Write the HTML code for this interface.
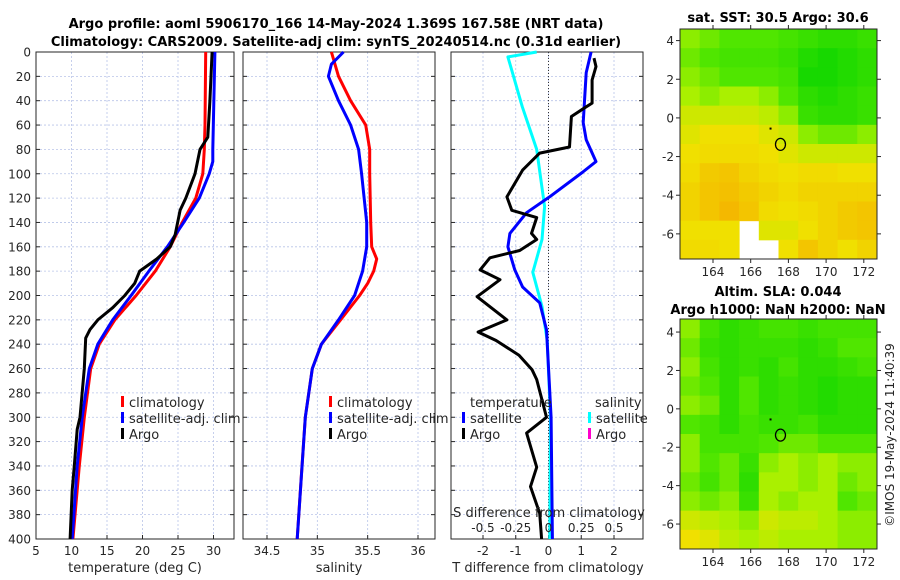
<!DOCTYPE html>
<html><head><meta charset="utf-8"><style>
body{margin:0;background:#fff}
svg{display:block}
text{font-family:"DejaVu Sans","Liberation Sans",sans-serif;fill:#262626}
.t{font-weight:bold;font-size:13px;fill:#000}
.tk{font-size:12px}
</style></head><body>
<svg id="c" width="900" height="580" viewBox="0 0 900 580" xmlns="http://www.w3.org/2000/svg">
<rect width="900" height="580" fill="#fff"/>
<text class="t" x="336" y="28" text-anchor="middle">Argo profile: aoml 5906170_166 14-May-2024 1.369S 167.58E (NRT data)</text>
<text class="t" x="336" y="46" text-anchor="middle">Climatology: CARS2009. Satellite-adj clim: synTS_20240514.nc (0.31d earlier)</text>
<text class="t" x="778" y="22" text-anchor="middle">sat. SST: 30.5 Argo: 30.6</text>
<text class="t" x="778" y="296" text-anchor="middle">Altim. SLA: 0.044</text>
<text class="t" x="778" y="314" text-anchor="middle">Argo h1000: NaN h2000: NaN</text>
<text class="tk" transform="translate(894,435) rotate(-90)" text-anchor="middle">©IMOS 19-May-2024 11:40:39</text>
<g id="g"></g>
</svg>
<script>
// ---- depth grid ----
const depthTicks=[0,20,40,60,80,100,120,140,160,180,200,220,240,260,280,300,320,340,360,380,400];
// ---- panel 1: temperature ----
const tTicks=[5,10,15,20,25,30];
const climTDepth=[0,60,80,100,120,140,160,180,200,220,240,260,300,340,400];
const climT=[28.9,28.8,28.7,28.5,27.5,25.6,23.9,21.8,19.1,16.1,13.9,12.7,11.8,11.1,10.2];
const satTDepth=[0,80,90,100,120,140,160,180,200,220,240,260,300,340,400];
const satT=[30.2,29.9,29.9,29.4,28.0,25.8,23.5,20.9,18.4,15.8,13.7,12.5,11.5,10.8,10.1];
const argoTDepth=[0,40,70,80,100,120,130,150,160,170,180,190,200,210,220,228,235,260,300,310,340,360,400];
const argoT=[29.8,29.5,29.2,28.1,27.4,26.1,25.3,24.6,23.9,22.0,19.6,18.9,17.5,15.8,13.7,12.6,12.0,11.8,11.2,10.8,10.4,10.1,9.8];
// ---- panel 2: salinity ----
const sTicks=[34.5,35,35.5,36];
const sTickLabels=["34.5","35","35.5","36"];
const climSDepth=[0,20,40,60,80,100,140,160,170,180,190,200,220,240,260,300,350,400];
const climS=[35.14,35.21,35.33,35.48,35.52,35.52,35.53,35.54,35.59,35.56,35.50,35.42,35.23,35.04,34.95,34.88,34.84,34.80];
const satSDepth=[0,10,20,40,60,80,100,140,160,180,200,220,240,260,300,400];
const satS=[35.26,35.14,35.11,35.21,35.33,35.41,35.44,35.49,35.49,35.45,35.37,35.21,35.04,34.95,34.88,34.80];
// ---- panel 3: differences ----
const dTTicks=[-2,-1,0,1,2];
const dSTicks=[-0.5,-0.25,0,0.25,0.5];
const dSTickLabels=["-0.5","-0.25","0","0.25","0.5"];
const satDTDepth=[0,17,58,72,90,99,119,132,149,160,179,193,206,228,300,400];
const satDT=[1.30,1.15,1.06,1.15,1.45,1.03,0.03,-0.67,-1.18,-1.24,-1.03,-0.79,-0.27,-0.06,0.08,0.12];
const argoDTDepth=[5,12,23,42,45,53,78,83,97,119,130,136,149,154,163,169,179,187,201,220,230,237,249,261,269,300,313,341,357,379,400];
const argoDT=[1.39,1.45,1.33,1.33,1.15,0.70,0.64,-0.27,-0.79,-1.27,-1.12,-0.36,-0.52,-0.36,-0.88,-1.79,-2.09,-1.48,-2.18,-1.27,-2.15,-1.6,-0.9,-0.5,-0.36,-0.06,-0.67,-0.36,-0.55,-0.27,-0.21];
const satDSDepth=[0,4,45,80,127,154,181,209,237,300,400];
const satDS=[-0.09,-0.31,-0.20,-0.09,-0.03,-0.05,-0.12,-0.05,-0.01,0.015,0.01];
// ---- maps ----
const lonTicks=[164,166,168,170,172];
const latTicks=[4,2,0,-2,-4,-6];
const sstGrid=[
[0.45,0.40,0.35,0.35,0.35,0.30,0.25,0.20,0.20,0.25],
[0.40,0.35,0.30,0.30,0.30,0.25,0.15,0.10,0.15,0.20],
[0.45,0.40,0.35,0.35,0.35,0.30,0.10,0.10,0.15,0.20],
[0.50,0.45,0.50,0.50,0.45,0.35,0.20,0.15,0.20,0.25],
[0.60,0.60,0.60,0.60,0.55,0.45,0.25,0.20,0.20,0.25],
[0.65,0.70,0.70,0.70,0.65,0.60,0.45,0.40,0.40,0.45],
[0.70,0.72,0.72,0.72,0.70,0.65,0.60,0.60,0.60,0.60],
[0.72,0.78,0.80,0.75,0.72,0.70,0.72,0.72,0.70,0.70],
[0.75,0.80,0.82,0.78,0.75,0.72,0.75,0.75,0.75,0.75],
[0.75,0.80,0.85,0.80,0.72,0.70,0.72,0.75,0.78,0.80],
[0.70,0.70,0.70,null,0.65,0.65,0.70,0.75,0.78,0.80],
[0.72,0.72,0.70,null,null,0.70,0.80,0.75,0.70,0.75]];
const slaGrid=[
[0.45,0.30,0.20,0.25,0.30,0.30,0.25,0.30,0.30,0.30],
[0.40,0.25,0.20,0.25,0.25,0.25,0.20,0.25,0.35,0.35],
[0.45,0.30,0.20,0.25,0.20,0.30,0.20,0.20,0.25,0.30],
[0.40,0.35,0.20,0.35,0.20,0.25,0.20,0.15,0.20,0.20],
[0.45,0.40,0.20,0.35,0.20,0.25,0.20,0.15,0.20,0.20],
[0.35,0.30,0.20,0.30,0.25,0.25,0.30,0.20,0.20,0.20],
[0.45,0.30,0.30,0.30,0.35,0.40,0.40,0.35,0.35,0.35],
[0.45,0.35,0.40,0.25,0.45,0.50,0.45,0.50,0.45,0.45],
[0.40,0.30,0.40,0.20,0.50,0.50,0.45,0.50,0.40,0.45],
[0.45,0.40,0.45,0.25,0.50,0.45,0.50,0.50,0.35,0.40],
[0.60,0.55,0.50,0.45,0.60,0.55,0.55,0.50,0.45,0.45],
[0.70,0.65,0.55,0.50,0.55,0.50,0.50,0.50,0.45,0.45]];
const argoLon=167.58, argoLat=-1.369;

const NS="http://www.w3.org/2000/svg";
const G=document.getElementById('g');
function mk(tag,attrs,parent){const e=document.createElementNS(NS,tag);for(const k in attrs)e.setAttribute(k,attrs[k]);(parent||G).appendChild(e);return e;}
const Y0=52,Y1=539;
const yD=d=>Y0+(d/400)*(Y1-Y0);
function lin(d0,d1,p0,p1){return v=>p0+(v-d0)/(d1-d0)*(p1-p0);}
const xT=lin(5,30,36,213.5);
const xS=lin(34.5,36,267,418);
const xDT=lin(-2,2,483,614);
const xDS=lin(-0.5,0.5,483,614);

function frame(px0,px1,xs,ticks,labels,name,leftLabels){
  depthTicks.forEach(d=>{const l=mk('line',{x1:px0,x2:px1,y1:yD(d),y2:yD(d),stroke:'#b8c4e8','stroke-width':0.8,'stroke-dasharray':'2,2'});
  
  });
  ticks.forEach((t,i)=>{const x=xs(t);const l=mk('line',{x1:x,x2:x,y1:Y0,y2:Y1,stroke:'#b8c4e8','stroke-width':0.8,'stroke-dasharray':'2,2'});
  
  
  mk('line',{x1:x,x2:x,y1:Y1,y2:Y1-4,stroke:'#262626'});
  if(labels){const tx=mk('text',{x:x,y:555,'text-anchor':'middle',class:'tk'});tx.textContent=labels[i];
  
  }});
  depthTicks.forEach(d=>{mk('line',{x1:px0,x2:px0+4,y1:yD(d),y2:yD(d),stroke:'#262626'});mk('line',{x1:px1,x2:px1-4,y1:yD(d),y2:yD(d),stroke:'#262626'});
   if(leftLabels){const tx=mk('text',{x:px0-5,y:yD(d)+4.5,'text-anchor':'end',class:'tk'});tx.textContent=d;
   
   }});
  const r=mk('rect',{x:px0,y:Y0,width:px1-px0,height:Y1-Y0,fill:'none',stroke:'#262626','stroke-width':1});
  
  
}
function series(xs,vals,depths,color,name){
  const pts=vals.map((v,i)=>xs(v).toFixed(1)+','+yD(depths[i]).toFixed(1)).join(' ');
  const p=mk('polyline',{points:pts,fill:'none',stroke:color,'stroke-width':3,'stroke-linejoin':'round'});
  
  
}
function legend(x,y,color,label,name){
  mk('rect',{x:x,y:y-11,width:3,height:11,fill:color});
  const t=mk('text',{x:x+8,y:y,class:'tk',style:'font-size:13px'});t.textContent=label;
  
  
}
function txt(x,y,s,name,anchor){const t=mk('text',{x:x,y:y,class:'tk',style:'font-size:13px','text-anchor':anchor||'start'});t.textContent=s;
  
  }

// panel 1
frame(36,234,xT,tTicks,tTicks.map(String),'temperature-axes',true);
series(xT,climT,climTDepth,'#ff0000','climatology-temperature-line');
series(xT,satT,satTDepth,'#0000ff','satellite-temperature-line');
series(xT,argoT,argoTDepth,'#000000','argo-temperature-line');
txt(135,572,'temperature (deg C)','temperature-x-axis-title','middle');
legend(121,407,'#ff0000','climatology','legend-climatology');
legend(121,423,'#0000ff','satellite-adj. clim','legend-satellite');
legend(121,439,'#000000','Argo','legend-argo');
// panel 2
frame(243,435,xS,sTicks,sTickLabels,'salinity-axes',false);
series(xS,climS,climSDepth,'#ff0000','climatology-salinity-line');
series(xS,satS,satSDepth,'#0000ff','satellite-salinity-line');
txt(339,572,'salinity','salinity-x-axis-title','middle');
legend(329,407,'#ff0000','climatology','legend-climatology-2');
legend(329,423,'#0000ff','satellite-adj. clim','legend-satellite-2');
legend(329,439,'#000000','Argo','legend-argo-2');
// panel 3
frame(451,643,xDT,dTTicks,dTTicks.map(String),'difference-axes',false);
{const z=mk('line',{x1:xDT(0),x2:xDT(0),y1:Y0,y2:Y1,stroke:'#333','stroke-width':1,'stroke-dasharray':'1,2'});

}
series(xDS,satDS,satDSDepth,'#00ffff','satellite-salinity-diff-line');
series(xDT,satDT,satDTDepth,'#0000ff','satellite-temperature-diff-line');
series(xDT,argoDT,argoDTDepth,'#000000','argo-temperature-diff-line');
dSTicks.forEach((t,i)=>{const tx=mk('text',{x:xDS(t),y:532,'text-anchor':'middle',class:'tk'});tx.textContent=dSTickLabels[i];
 
 });
txt(549,517,'S difference from climatology','s-diff-axis-title','middle');
txt(548,572,'T difference from climatology','t-diff-axis-title','middle');
txt(470,407,'temperature','legend-temperature-header');
legend(462,423,'#0000ff','satellite','legend-temp-satellite');
legend(462,439,'#000000','Argo','legend-temp-argo');
txt(595,407,'salinity','legend-salinity-header');
legend(588,423,'#00ffff','satellite','legend-sal-satellite');
legend(588,439,'#ff00cc','Argo','legend-sal-argo');

// maps
function cmap(v){
  const stops=[[0,[0,210,0]],[0.35,[80,230,0]],[0.5,[170,240,0]],[0.7,[240,224,0]],[0.9,[245,170,0]]];
  if(v<=0)return 'rgb(0,210,0)';
  for(let i=1;i<stops.length;i++){if(v<=stops[i][0]){const a=stops[i-1],b=stops[i];const f=(v-a[0])/(b[0]-a[0]);
    return 'rgb('+a[1].map((c,k)=>Math.round(c+(b[1][k]-c)*f)).join(',')+')';}}
  return 'rgb(245,170,0)';
}
function map(grid,top,bottom,latTop,name){
  const L=680,R=877;
  const xL=lin(162.25,172.7,L,R), yL=lin(latTop,-7.3,top,bottom);
  const rows=grid.length, cols=grid[0].length;
  const cw=(R-L)/cols, ch=(bottom-top)/rows;
  grid.forEach((row,r)=>row.forEach((v,c)=>{
    if(v===null)return;
    const cell=mk('rect',{x:(L+c*cw).toFixed(2),y:(top+r*ch).toFixed(2),width:(cw+0.5).toFixed(2),height:(ch+0.5).toFixed(2),fill:cmap(v)});
    
    
  }));
  const b=mk('rect',{x:L,y:top,width:R-L,height:bottom-top,fill:'none',stroke:'#262626'});
  
  
  lonTicks.forEach(t=>{const x=xL(t);mk('line',{x1:x,x2:x,y1:bottom,y2:bottom+4,stroke:'#262626'});mk('line',{x1:x,x2:x,y1:top,y2:top-4,stroke:'#262626'});
    const tx=mk('text',{x:x,y:bottom+17,'text-anchor':'middle',class:'tk'});tx.textContent=t;
    
    });
  latTicks.forEach(t=>{const y=yL(t);mk('line',{x1:L,x2:L-4,y1:y,y2:y,stroke:'#262626'});mk('line',{x1:R,x2:R+4,y1:y,y2:y,stroke:'#262626'});
    const tx=mk('text',{x:L-6,y:y+4.5,'text-anchor':'end',class:'tk'});tx.textContent=t;
    
    });
  const c=mk('ellipse',{cx:xL(argoLon),cy:yL(argoLat),rx:5,ry:6,fill:'none',stroke:'#000','stroke-width':1.3});
  
  
  mk('rect',{x:xL(167),y:yL(-0.5),width:2,height:2,fill:'#000'});
}
map(sstGrid,29,259,4.6,'sst-map');
map(slaGrid,319,549,4.68,'sla-map');
</script>
</body></html>
